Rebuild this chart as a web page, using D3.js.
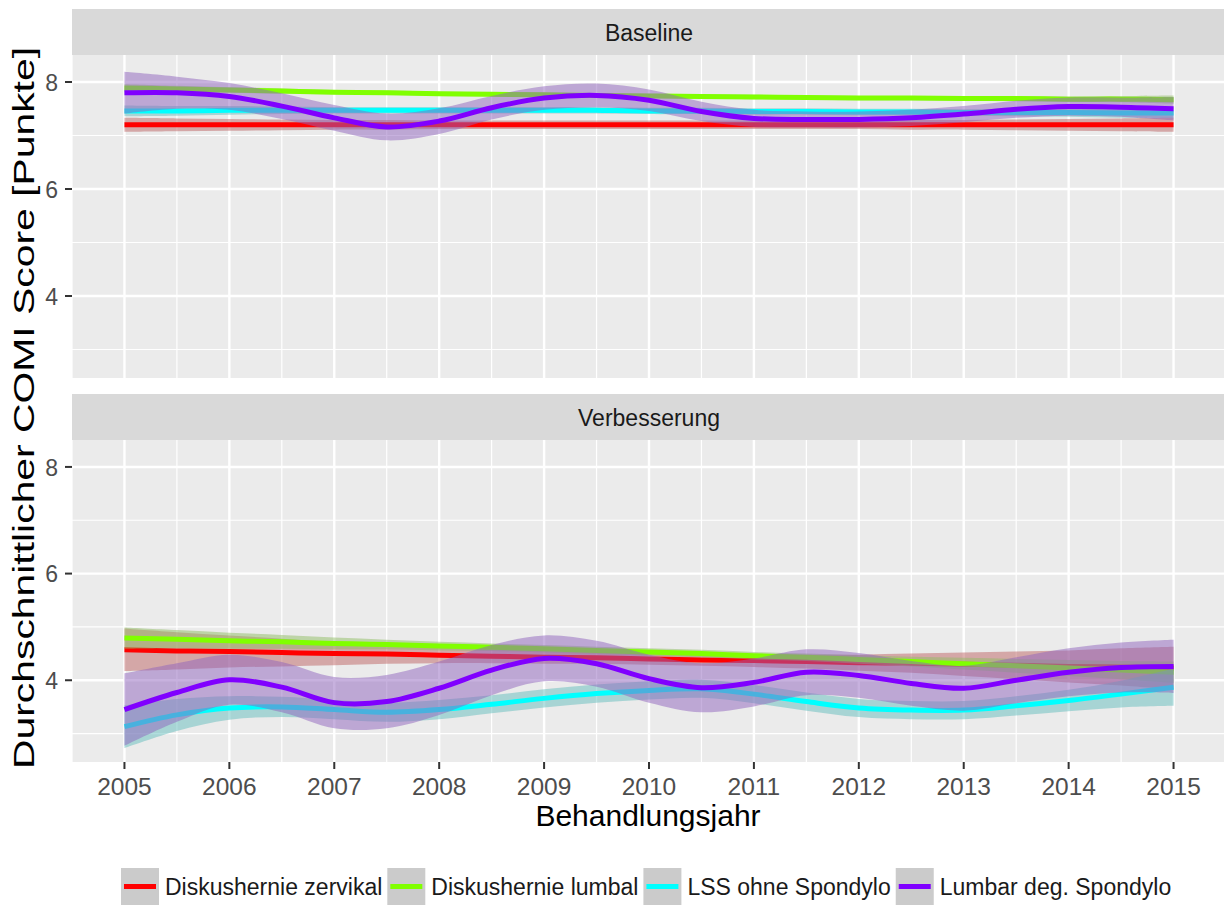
<!DOCTYPE html>
<html>
<head>
<meta charset="utf-8">
<script src="https://cdn.jsdelivr.net/npm/d3@7"></script>
<style>
  body { margin: 0; background: #fff; }
  svg { display: block; font-family: "Liberation Sans", Arial, sans-serif; }
</style>
</head>
<body>
<div id="chart"></div>
<script>
// Daten (halbjährliche Stützstellen)
const years = [2005, 2005.5, 2006, 2006.5, 2007, 2007.5, 2008, 2008.5, 2009, 2009.5, 2010,
               2010.5, 2011, 2011.5, 2012, 2012.5, 2013, 2013.5, 2014, 2014.5, 2015];
const xTicks = [2005, 2006, 2007, 2008, 2009, 2010, 2011, 2012, 2013, 2014, 2015];
const yTicks = [4, 6, 8];
const facets = ["Baseline", "Verbesserung"];
const seriesNames = ["Diskushernie zervikal", "Diskushernie lumbal", "LSS ohne Spondylo", "Lumbar deg. Spondylo"];
const seriesColors = ["#FF0000", "#80FF00", "#00FFFF", "#8000FF"];

// Baseline
const baseZervikal   = [7.20,7.20,7.20,7.20,7.20,7.20,7.20,7.20,7.20,7.20,7.20,7.20,7.20,7.20,7.20,7.20,7.20,7.20,7.20,7.20,7.20];
const baseZervikalSe = [0.13,0.12,0.11,0.10,0.09,0.09,0.08,0.08,0.08,0.08,0.08,0.08,0.08,0.08,0.08,0.09,0.09,0.10,0.11,0.12,0.13];
const baseLumbal     = [7.89,7.87,7.85,7.83,7.81,7.80,7.78,7.77,7.76,7.75,7.74,7.73,7.72,7.71,7.70,7.70,7.69,7.69,7.68,7.68,7.67];
const baseLumbalSe   = [0.07,0.06,0.05,0.05,0.04,0.04,0.04,0.04,0.04,0.04,0.04,0.04,0.04,0.04,0.04,0.04,0.04,0.05,0.05,0.06,0.08];
const baseLss        = [7.46,7.46,7.47,7.47,7.47,7.47,7.47,7.47,7.47,7.47,7.46,7.46,7.45,7.45,7.44,7.44,7.43,7.43,7.43,7.42,7.42];
const baseLssSe      = [0.10,0.09,0.08,0.07,0.06,0.06,0.06,0.06,0.06,0.06,0.06,0.06,0.06,0.06,0.06,0.06,0.06,0.07,0.08,0.09,0.10];
const baseSpondylo   = [7.80,7.80,7.73,7.55,7.33,7.16,7.27,7.52,7.70,7.75,7.66,7.45,7.32,7.30,7.30,7.33,7.40,7.49,7.54,7.53,7.50];
const baseSpondyloSe = [0.39,0.30,0.25,0.24,0.24,0.25,0.24,0.22,0.22,0.22,0.20,0.18,0.16,0.15,0.15,0.15,0.15,0.16,0.17,0.18,0.22];

// Verbesserung
const verbZervikal   = [4.57,4.55,4.54,4.52,4.50,4.49,4.47,4.45,4.43,4.42,4.40,4.38,4.37,4.35,4.33,4.32,4.30,4.28,4.26,4.25,4.23];
const verbZervikalSe = [0.40,0.35,0.30,0.26,0.22,0.18,0.15,0.13,0.12,0.11,0.11,0.11,0.12,0.13,0.15,0.18,0.22,0.26,0.30,0.35,0.40];
const verbLumbal     = [4.79,4.77,4.74,4.72,4.69,4.67,4.64,4.62,4.59,4.56,4.53,4.50,4.46,4.43,4.39,4.35,4.31,4.27,4.23,4.19,4.15];
const verbLumbalSe   = [0.20,0.17,0.15,0.13,0.11,0.09,0.08,0.07,0.07,0.07,0.07,0.07,0.07,0.07,0.08,0.09,0.11,0.13,0.15,0.17,0.20];
const verbLss        = [3.13,3.35,3.48,3.50,3.45,3.40,3.45,3.55,3.66,3.75,3.81,3.84,3.74,3.60,3.48,3.44,3.44,3.52,3.62,3.74,3.87];
const verbLssSe      = [0.40,0.30,0.22,0.19,0.18,0.18,0.18,0.17,0.17,0.17,0.17,0.17,0.17,0.17,0.17,0.17,0.17,0.18,0.20,0.25,0.35];
const verbSpondylo   = [3.45,3.77,4.01,3.87,3.58,3.60,3.85,4.19,4.41,4.31,4.03,3.86,3.96,4.15,4.09,3.94,3.85,4.00,4.15,4.24,4.26];
const verbSpondyloSe = [0.68,0.55,0.47,0.47,0.48,0.50,0.50,0.47,0.43,0.43,0.45,0.46,0.45,0.43,0.42,0.42,0.42,0.43,0.45,0.47,0.50];

const panelData = [
  [[baseZervikal, baseZervikalSe], [baseLumbal, baseLumbalSe], [baseLss, baseLssSe], [baseSpondylo, baseSpondyloSe]],
  [[verbZervikal, verbZervikalSe], [verbLumbal, verbLumbalSe], [verbLss, verbLssSe], [verbSpondylo, verbSpondyloSe]]
];

// Layout
const W = 1224, H = 909;
const left = 72, right = 1226;
const panels = [
  { stripTop: 9,   top: 55,  bottom: 378 },
  { stripTop: 394, top: 440, bottom: 762 }
];
const panelBg = "#ebebeb", stripBg = "#d9d9d9";

const svg = d3.select("#chart").append("svg")
  .attr("width", W).attr("height", H);

const x = d3.scaleLinear().domain([2004.5, 2015.5]).range([left, right]);

facets.forEach((facet, pi) => {
  const p = panels[pi];
  const y = d3.scaleLinear().domain([2.467, 8.505]).range([p.bottom, p.top]);

  // Strip
  svg.append("rect")
    .attr("x", left).attr("y", p.stripTop)
    .attr("width", right - left).attr("height", p.top - p.stripTop)
    .attr("fill", stripBg);
  svg.append("text")
    .attr("x", (left + 1222) / 2 + 2).attr("y", (p.stripTop + p.top) / 2 + 8.5)
    .attr("text-anchor", "middle")
    .attr("font-size", 23).attr("fill", "#1a1a1a")
    .text(facet);

  // Panel + Gitter
  const g = svg.append("g");
  g.append("rect")
    .attr("x", left).attr("y", p.top)
    .attr("width", right - left).attr("height", p.bottom - p.top)
    .attr("fill", panelBg);

  const minorX = d3.range(2004.5, 2015.6, 1);
  const minorY = [3, 5, 7];
  g.selectAll(".mx").data(minorX).join("line")
    .attr("x1", d => x(d)).attr("x2", d => x(d))
    .attr("y1", p.top).attr("y2", p.bottom)
    .attr("stroke", "#fff").attr("stroke-width", 1.2);
  g.selectAll(".my").data(minorY).join("line")
    .attr("x1", left).attr("x2", right)
    .attr("y1", d => y(d)).attr("y2", d => y(d))
    .attr("stroke", "#fff").attr("stroke-width", 1.2);
  g.selectAll(".gx").data(xTicks).join("line")
    .attr("x1", d => x(d)).attr("x2", d => x(d))
    .attr("y1", p.top).attr("y2", p.bottom)
    .attr("stroke", "#fff").attr("stroke-width", 2.4);
  g.selectAll(".gy").data(yTicks).join("line")
    .attr("x1", left).attr("x2", right)
    .attr("y1", d => y(d)).attr("y2", d => y(d))
    .attr("stroke", "#fff").attr("stroke-width", 2.4);

  // Glättungen: Band + Linie je Gruppe
  const clipId = "clip" + pi;
  svg.append("clipPath").attr("id", clipId).append("rect")
    .attr("x", left).attr("y", p.top)
    .attr("width", right - left).attr("height", p.bottom - p.top);
  const marks = svg.append("g").attr("clip-path", `url(#${clipId})`);

  panelData[pi].forEach(([vals, se], si) => {
    const pts = years.map((yr, i) => ({ yr, v: vals[i], s: se[i] }));
    const col = seriesColors[si];
    const area = d3.area()
      .x(d => x(d.yr)).y0(d => y(d.v - d.s)).y1(d => y(d.v + d.s))
      .curve(d3.curveCatmullRom.alpha(0.5));
    const line = d3.line()
      .x(d => x(d.yr)).y(d => y(d.v))
      .curve(d3.curveCatmullRom.alpha(0.5));
    marks.append("path").datum(pts)
      .attr("d", area)
      .attr("fill", d3.interpolateRgb("#999999", col)(0.35))
      .attr("fill-opacity", 0.5);
    marks.append("path").datum(pts)
      .attr("d", line)
      .attr("fill", "none")
      .attr("stroke", col).attr("stroke-width", 5);
  });

  // Y-Achse
  const ya = svg.append("g");
  ya.selectAll("line").data(yTicks).join("line")
    .attr("x1", left - 7).attr("x2", left)
    .attr("y1", d => y(d)).attr("y2", d => y(d))
    .attr("stroke", "#333").attr("stroke-width", 2);
  ya.selectAll("text").data(yTicks).join("text")
    .attr("x", left - 14).attr("y", d => y(d)).attr("dy", "0.38em")
    .attr("text-anchor", "end")
    .attr("font-size", 23).attr("fill", "#4d4d4d")
    .text(d => d);

  // X-Achse nur unten
  if (pi === facets.length - 1) {
    const xa = svg.append("g");
    xa.selectAll("line").data(xTicks).join("line")
      .attr("x1", d => x(d)).attr("x2", d => x(d))
      .attr("y1", p.bottom).attr("y2", p.bottom + 7)
      .attr("stroke", "#333").attr("stroke-width", 2);
    xa.selectAll("text").data(xTicks).join("text")
      .attr("x", d => x(d)).attr("y", p.bottom + 33)
      .attr("text-anchor", "middle")
      .attr("font-size", 24.5).attr("fill", "#4d4d4d")
      .text(d => d);
  }
});

// Achsentitel
svg.append("text")
  .attr("x", 648).attr("y", 826)
  .attr("text-anchor", "middle")
  .attr("font-size", 30).attr("fill", "#000")
  .text("Behandlungsjahr");
svg.append("text")
  .attr("transform", `translate(34, 408) rotate(-90)`)
  .attr("text-anchor", "middle")
  .attr("font-size", 29).attr("fill", "#000")
  .attr("textLength", 722).attr("lengthAdjust", "spacingAndGlyphs")
  .text("Durchschnittlicher COMI Score [Punkte]");

// Legende
const legend = svg.append("g");
let lx = 121;
const keyTop = 868, keyW = 38, keyH = 37;
seriesNames.forEach((name, i) => {
  legend.append("rect")
    .attr("x", lx).attr("y", keyTop)
    .attr("width", keyW).attr("height", keyH)
    .attr("fill", "#cbcbcb");
  legend.append("line")
    .attr("x1", lx + 3).attr("x2", lx + keyW - 3)
    .attr("y1", keyTop + keyH / 2).attr("y2", keyTop + keyH / 2)
    .attr("stroke", seriesColors[i]).attr("stroke-width", 5);
  const t = legend.append("text")
    .attr("x", lx + keyW + 6).attr("y", keyTop + keyH / 2 + 8.5)
    .attr("font-size", 23).attr("fill", "#1a1a1a")
    .text(name);
  lx += keyW + 6 + t.node().getComputedTextLength() + 5;
});
</script>
</body>
</html>
